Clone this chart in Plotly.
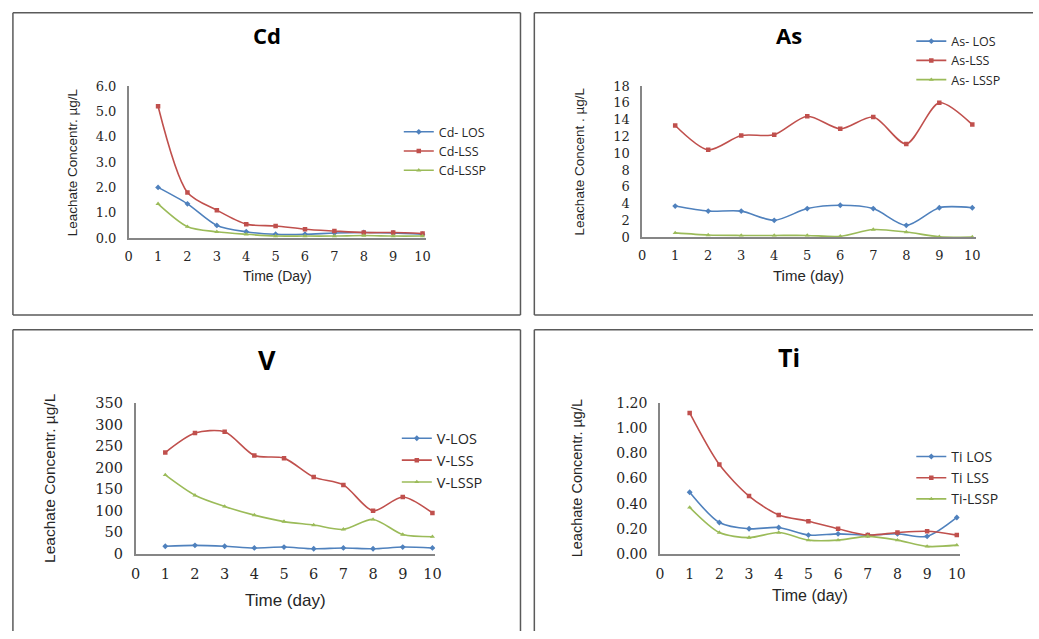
import plotly.graph_objects as go

W, H = 1039, 639
days = [1, 2, 3, 4, 5, 6, 7, 8, 9, 10]

cd_los = [2.0, 1.35, 0.5, 0.25, 0.15, 0.15, 0.2, 0.22, 0.2, 0.15]
cd_lss = [5.2, 1.8, 1.1, 0.55, 0.48, 0.35, 0.28, 0.22, 0.22, 0.18]
cd_lssp = [1.35, 0.45, 0.25, 0.15, 0.08, 0.08, 0.08, 0.1, 0.08, 0.08]

as_los = [3.7, 3.1, 3.1, 2.0, 3.4, 3.8, 3.4, 1.4, 3.5, 3.5]
as_lss = [13.3, 10.4, 12.1, 12.2, 14.4, 12.9, 14.3, 11.1, 16.0, 13.4]
as_lssp = [0.5, 0.25, 0.2, 0.2, 0.2, 0.1, 0.9, 0.6, 0.05, 0.0]

v_los = [18, 20, 18, 14, 16, 12, 14, 12, 16, 14]
v_lss = [235, 280, 283, 228, 222, 178, 160, 100, 132, 95]
v_lssp = [183, 136, 110, 90, 75, 67, 57, 80, 45, 40]

ti_los = [0.49, 0.25, 0.20, 0.21, 0.15, 0.16, 0.15, 0.16, 0.14, 0.29]
ti_lss = [1.12, 0.71, 0.46, 0.31, 0.26, 0.20, 0.15, 0.17, 0.18, 0.15]
ti_lssp = [0.37, 0.17, 0.13, 0.17, 0.11, 0.11, 0.14, 0.11, 0.06, 0.07]

x_ticks = list(range(0, 11))

BLUE, RED, GREEN = "#4F81BD", "#C0504D", "#9BBB59"
AXC = "#868686"
TXT = "#262626"

def px(x):
    return x / W

def py(y):
    return 1 - y / H

panels = [
    dict(name="Cd", series=[("Cd- LOS", cd_los), ("Cd-LSS", cd_lss), ("Cd-LSSP", cd_lssp)],
         xd=(125, 425), yd=(80, 236), yr=(0, 6), dtick=1, fmt=".1f",
         title_xy=(265, 28), ylab="Leachate Concentr. µg/L", ylab_x=68,
         xlab="Time (Day)", xlab_y=275, leg=(398, 112), tfs=13, lfs=14, afs=13.5, titfs=22, legfs=12.5),
    dict(name="As", series=[("As- LOS", as_los), ("As-LSS", as_lss), ("As- LSSP", as_lssp)],
         xd=(644, 981), yd=(80, 235), yr=(0, 18), dtick=2, fmt="d",
         title_xy=(792, 28), ylab="Leachate Concent . µg/L", ylab_x=581,
         xlab="Time (day)", xlab_y=274, leg=(916, 19), tfs=13, lfs=15, afs=13.5, titfs=22, legfs=12.5),
    dict(name="V", series=[("V-LOS", v_los), ("V-LSS", v_lss), ("V-LSSP", v_lssp)],
         xd=(132, 435), yd=(405, 560), yr=(0, 350), dtick=50, fmt="d",
         title_xy=(265, 361), ylab="Leachate Concentr. µg/L", ylab_x=45,
         xlab="Time (day)", xlab_y=608, leg=(396, 425), tfs=14.5, lfs=17, afs=15.5, titfs=27, legfs=14.5),
    dict(name="Ti", series=[("Ti LOS", ti_los), ("Ti LSS", ti_lss), ("Ti-LSSP", ti_lssp)],
         xd=(662, 965), yd=(405, 560), yr=(0, 1.2), dtick=0.2, fmt=".2f",
         title_xy=(792, 358), ylab="Leachate Concentr. µg/L", ylab_x=579,
         xlab="Time (day)", xlab_y=603, leg=(916, 444), tfs=14, lfs=16, afs=14.5, titfs=25, legfs=14),
]

colors = [BLUE, RED, GREEN]
symbols = ["diamond", "square", "triangle-up"]

fig = go.Figure()
annotations = []
shapes = []
layout = {}

for i, p in enumerate(panels):
    n = "" if i == 0 else str(i + 1)
    xa, ya = "x" + n, "y" + n
    leg = "legend" + n
    for (lab, vals), c, s in zip(p["series"], colors, symbols):
        fig.add_trace(go.Scatter(
            x=days, y=vals, name=lab, mode="lines+markers",
            line=dict(color=c, width=1.6, shape="spline", smoothing=0.8),
            marker=dict(color=c, size=4.5, symbol=s),
            xaxis=xa, yaxis=ya, legend=leg,
        ))
    layout["xaxis" + n] = dict(
        domain=[px(p["xd"][0]), px(p["xd"][1])], range=[0, 10.1], anchor=ya,
        tickvals=x_ticks, ticks="", showgrid=False, zeroline=False,
        showline=True, linecolor=AXC, linewidth=1.5,
        tickfont=dict(family="DejaVu Serif", size=p["tfs"], color=TXT),
        ticklabelstandoff=6,
    )
    layout["yaxis" + n] = dict(
        domain=[py(p["yd"][1]), py(p["yd"][0])], range=list(p["yr"]), anchor=xa,
        dtick=p["dtick"], tick0=0, tickformat=p["fmt"], ticks="", showgrid=False,
        zeroline=False, showline=True, linecolor=AXC, linewidth=1.5,
        tickfont=dict(family="DejaVu Serif", size=p["tfs"], color=TXT),
        ticklabelstandoff=8,
    )
    layout[leg] = dict(
        x=px(p["leg"][0]), y=py(p["leg"][1]), xanchor="left", yanchor="top",
        bgcolor="rgba(0,0,0,0)", font=dict(family="Open Sans", size=p["legfs"], color=TXT),
        itemwidth=30, tracegroupgap=0,
    )
    annotations.append(dict(
        text="<b>%s</b>" % p["name"], x=px(p["title_xy"][0]), y=py(p["title_xy"][1]),
        xref="paper", yref="paper", showarrow=False, xanchor="center", yanchor="middle",
        font=dict(family="Open Sans", size=p["titfs"], color="#000"),
    ))
    annotations.append(dict(
        text=p["ylab"], x=px(p["ylab_x"]), y=py((p["yd"][0] + p["yd"][1]) / 2),
        xref="paper", yref="paper", showarrow=False, textangle=-90,
        xanchor="center", yanchor="middle",
        font=dict(family="Liberation Sans", size=p["afs"], color=TXT),
    ))
    annotations.append(dict(
        text=p["xlab"], x=px((p["xd"][0] + p["xd"][1]) / 2), y=py(p["xlab_y"]),
        xref="paper", yref="paper", showarrow=False, xanchor="center", yanchor="middle",
        font=dict(family="Liberation Sans", size=p["lfs"], color=TXT),
    ))

# panel frames: (x0, y0, x1, y1) segments in pixel coordinates
frame_lines = [
    (8, 5, 521, 5), (8, 5, 8, 315), (8, 315, 521, 315), (521, 5, 521, 315),
    (535, 5, 1039, 5), (535, 5, 535, 315), (535, 315, 1039, 315),
    (8, 330, 521, 330), (8, 330, 8, 639), (521, 330, 521, 639),
    (535, 330, 1039, 330), (535, 330, 535, 639),
]
for x0, y0, x1, y1 in frame_lines:
    shapes.append(dict(type="line", xref="paper", yref="paper",
                       x0=px(x0), x1=px(x1), y0=py(y0), y1=py(y1),
                       line=dict(color="#5a5a5a", width=1.5)))

fig.update_layout(
    width=W, height=H, margin=dict(l=0, r=0, t=0, b=0),
    paper_bgcolor="white", plot_bgcolor="white",
    annotations=annotations, shapes=shapes, showlegend=True,
    **layout,
)

fig.write_html("out.html")
